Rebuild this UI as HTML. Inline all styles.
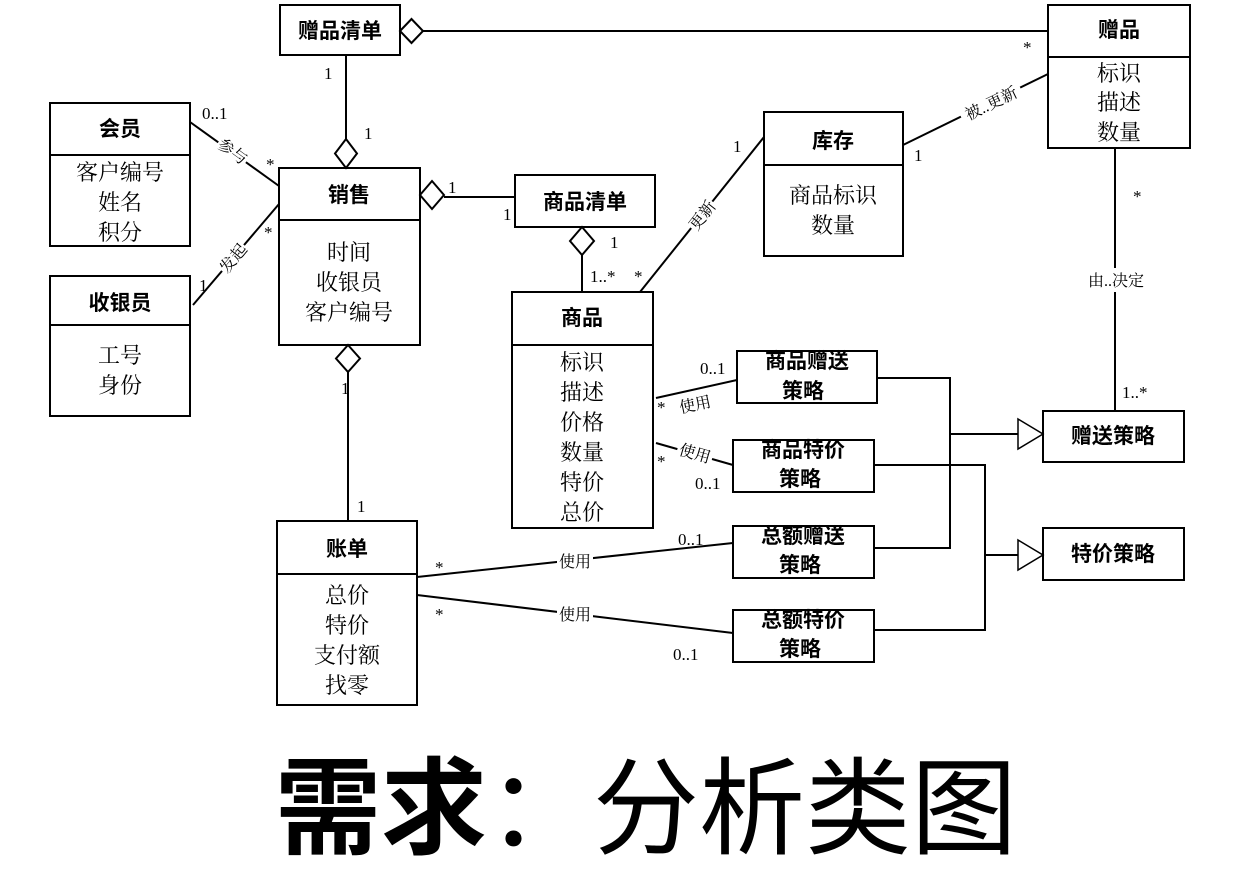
<!DOCTYPE html>
<html><head><meta charset="utf-8"><style>
html,body{margin:0;padding:0;background:#fff;}
svg{display:block;}
.b{font-family:"Liberation Sans","Noto Sans CJK SC",sans-serif;font-weight:bold;font-size:21px;text-anchor:middle;}
.a{font-family:"Liberation Serif","Noto Serif CJK SC",serif;font-size:22px;text-anchor:middle;}
.m{font-family:"Liberation Serif","Noto Serif CJK SC",serif;font-size:17px;}
.l{font-family:"Liberation Serif","Noto Serif CJK SC",serif;font-size:16px;}
</style></head><body>
<svg width="1238" height="872" viewBox="0 0 1238 872" xmlns="http://www.w3.org/2000/svg">
<g fill="none" stroke="#000" stroke-width="2">
<!-- boxes -->
<rect x="280" y="5" width="120" height="50"/>
<rect x="1048" y="5" width="142" height="143"/><line x1="1048" y1="57" x2="1190" y2="57"/>
<rect x="50" y="103" width="140" height="143"/><line x1="50" y1="155" x2="190" y2="155"/>
<rect x="279" y="168" width="141" height="177"/><line x1="279" y1="220" x2="420" y2="220"/>
<rect x="515" y="175" width="140" height="52"/>
<rect x="764" y="112" width="139" height="144"/><line x1="764" y1="165" x2="903" y2="165"/>
<rect x="50" y="276" width="140" height="140"/><line x1="50" y1="325" x2="190" y2="325"/>
<rect x="512" y="292" width="141" height="236"/><line x1="512" y1="345" x2="653" y2="345"/>
<rect x="737" y="351" width="140" height="52"/>
<rect x="733" y="440" width="141" height="52"/>
<rect x="1043" y="411" width="141" height="51"/>
<rect x="733" y="526" width="141" height="52"/>
<rect x="1043" y="528" width="141" height="52"/>
<rect x="733" y="610" width="141" height="52"/>
<rect x="277" y="521" width="140" height="184"/><line x1="277" y1="574" x2="417" y2="574"/>
<!-- connectors -->
<line x1="423" y1="31" x2="1048" y2="31"/>
<polygon points="400,31 411.5,19 423,31 411.5,43" fill="#fff"/>
<line x1="346" y1="55" x2="346" y2="139"/>
<polygon points="346,139 357,153.5 346,168 335,153.5" fill="#fff"/>
<line x1="190" y1="122" x2="279" y2="186"/>
<line x1="193" y1="305" x2="279" y2="204"/>
<line x1="444" y1="197" x2="515" y2="197"/>
<polygon points="420,195 432,181 444,195 432,209" fill="#fff"/>
<line x1="582" y1="255" x2="582" y2="292"/>
<polygon points="582,227 594,241 582,255 570,241" fill="#fff"/>
<line x1="640" y1="292" x2="764" y2="137"/>
<line x1="903" y1="145" x2="1048" y2="74"/>
<line x1="1115" y1="148" x2="1115" y2="411"/>
<line x1="348" y1="372" x2="348" y2="521"/>
<polygon points="348,345 360,358.5 348,372 336,358.5" fill="#fff"/>
<line x1="656" y1="398" x2="737" y2="380"/>
<line x1="656" y1="443" x2="733" y2="465"/>
<line x1="417" y1="577" x2="733" y2="543"/>
<line x1="417" y1="595" x2="733" y2="633"/>
<polyline points="877,378 950,378 950,548 874,548"/>
<line x1="950" y1="434" x2="1018" y2="434"/>
<polygon points="1018,419 1043,434 1018,449" fill="#fff" stroke-width="1.5"/>
<polyline points="874,465 985,465 985,630 874,630"/>
<line x1="985" y1="555" x2="1018" y2="555"/>
<polygon points="1018,540 1043,555 1018,570" fill="#fff" stroke-width="1.5"/>
</g>
<!-- label backgrounds -->
<g fill="#fff">
<rect x="216" y="138" width="34" height="26" transform="rotate(36 233 151)"/>
<rect x="216" y="245" width="34" height="26" transform="rotate(-50 233 258)"/>
<rect x="685" y="202" width="34" height="26" transform="rotate(-52 702 215)"/>
<rect x="958" y="92" width="66" height="22" transform="rotate(-26 991 103)"/>
<rect x="1082" y="268" width="68" height="24"/>
<rect x="677" y="394" width="36" height="20" transform="rotate(-12 695 404)"/>
<rect x="677" y="443" width="36" height="20" transform="rotate(16 695 453)"/>
<rect x="557" y="550" width="36" height="22"/>
<rect x="557" y="603" width="36" height="22"/>
</g>
<!-- class names -->
<text class="b" x="340" y="38">赠品清单</text>
<text class="b" x="1119" y="37">赠品</text>
<text class="b" x="120" y="136">会员</text>
<text class="b" x="349" y="202">销售</text>
<text class="b" x="585" y="209">商品清单</text>
<text class="b" x="833" y="148">库存</text>
<text class="b" x="120" y="310">收银员</text>
<text class="b" x="582" y="325">商品</text>
<text class="b" x="807" y="368">商品赠送</text><text class="b" x="803" y="398">策略</text>
<text class="b" x="803" y="457">商品特价</text><text class="b" x="800" y="486">策略</text>
<text class="b" x="1113" y="443">赠送策略</text>
<text class="b" x="803" y="543">总额赠送</text><text class="b" x="800" y="572">策略</text>
<text class="b" x="1113" y="561">特价策略</text>
<text class="b" x="803" y="627">总额特价</text><text class="b" x="800" y="656">策略</text>
<text class="b" x="347" y="556">账单</text>
<!-- attributes -->
<text class="a" x="1119" y="81">标识</text><text class="a" x="1119" y="110">描述</text><text class="a" x="1119" y="140">数量</text>
<text class="a" x="120" y="180">客户编号</text><text class="a" x="120" y="210">姓名</text><text class="a" x="120" y="240">积分</text>
<text class="a" x="349" y="260">时间</text><text class="a" x="349" y="290">收银员</text><text class="a" x="349" y="320">客户编号</text>
<text class="a" x="833" y="203">商品标识</text><text class="a" x="833" y="233">数量</text>
<text class="a" x="120" y="363">工号</text><text class="a" x="120" y="393">身份</text>
<text class="a" x="582" y="370">标识</text><text class="a" x="582" y="400">描述</text><text class="a" x="582" y="430">价格</text><text class="a" x="582" y="460">数量</text><text class="a" x="582" y="490">特价</text><text class="a" x="582" y="520">总价</text>
<text class="a" x="347" y="603">总价</text><text class="a" x="347" y="633">特价</text><text class="a" x="347" y="663">支付额</text><text class="a" x="347" y="693">找零</text>
<!-- multiplicities -->
<g class="m">
<text x="324" y="79">1</text><text x="364" y="139">1</text>
<text x="1023" y="53">*</text>
<text x="202" y="119">0..1</text><text x="266" y="170">*</text>
<text x="264" y="238">*</text><text x="199" y="291">1</text>
<text x="448" y="193">1</text><text x="503" y="220">1</text>
<text x="610" y="248">1</text><text x="590" y="282">1..*</text><text x="634" y="282">*</text>
<text x="733" y="152">1</text><text x="914" y="161">1</text>
<text x="1133" y="202">*</text><text x="1122" y="398">1..*</text>
<text x="341" y="394">1</text><text x="357" y="512">1</text>
<text x="700" y="374">0..1</text><text x="657" y="413">*</text>
<text x="657" y="467">*</text><text x="695" y="489">0..1</text>
<text x="435" y="573">*</text><text x="678" y="545">0..1</text>
<text x="435" y="620">*</text><text x="673" y="660">0..1</text>
</g>
<!-- association labels -->
<g class="l">
<text x="233" y="157" text-anchor="middle" transform="rotate(36 233 151)">参与</text>
<text x="233" y="264" text-anchor="middle" transform="rotate(-50 233 258)">发起</text>
<text x="702" y="221" text-anchor="middle" transform="rotate(-52 702 215)">更新</text>
<text x="991" y="109" text-anchor="middle" transform="rotate(-26 991 103)">被..更新</text>
<text x="1116" y="286" text-anchor="middle">由..决定</text>
<text x="695" y="410" text-anchor="middle" transform="rotate(-12 695 404)">使用</text>
<text x="695" y="459" text-anchor="middle" transform="rotate(16 695 453)">使用</text>
<text x="575" y="567" text-anchor="middle">使用</text>
<text x="575" y="620" text-anchor="middle">使用</text>
</g>
<!-- title -->
<text x="275" y="846" font-family="'Noto Sans CJK SC',sans-serif" font-size="106" textLength="742" lengthAdjust="spacingAndGlyphs"><tspan font-weight="bold">需求</tspan><tspan>：分析类图</tspan></text>
</svg>
</body></html>
